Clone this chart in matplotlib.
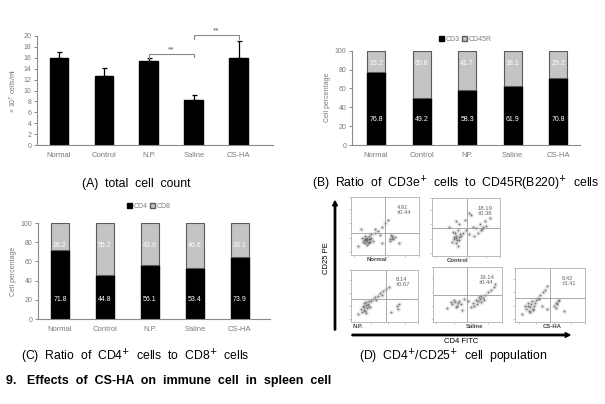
import matplotlib
matplotlib.use("Agg")
import matplotlib.pyplot as plt
from matplotlib.patches import Patch

plt.rcParams['font.family'] = ['Liberation Sans', 'DejaVu Sans']

W, H = 605, 404

# ---------------- data ----------------
groups = ["Normal", "Control", "N.P.", "Saline", "CS-HA"]
groups_b = ["Normal", "Control", "NP.", "Saline", "CS-HA"]

total_count = [16.0, 12.6, 15.5, 8.2, 16.0]
total_err = [1.0, 1.6, 0.4, 1.0, 3.1]

cd3_vals = [77.0, 49.4, 58.6, 62.1, 70.8]
cd3_labels = ["76.8", "49.2", "58.3", "61.9", "70.8"]
cd45_labels = ["23.2", "50.8", "41.7", "38.1", "29.2"]

cd4_vals = [71.6, 45.5, 55.9, 53.2, 64.8]
cd4_labels = ["71.8", "44.8", "56.1", "53.4", "73.9"]
cd8_labels = ["28.2", "55.2", "43.9", "46.6", "26.1"]

flow_names = ["Normal", "Control", "N.P.", "Saline", "CS-HA"]
flow_values = ["4.91\n±0.44", "18.19\n±0.38", "8.14\n±0.67", "19.14\n±0.44", "6.42\n±3.41"]
flow_vline = [0.50, 0.51, 0.52, 0.49, 0.50]
flow_hline = [0.38, 0.48, 0.44, 0.49, 0.44]

normal_x = [0.18,0.20,0.22,0.24,0.26,0.28,0.25,0.21,0.30,0.23,0.27,0.19,0.32,0.29,0.16,0.24,0.26,0.22,0.20,0.28,
            0.57,0.60,0.62,0.59,0.64,0.58,0.61,0.36,0.40,0.45,0.50,0.55,0.35,0.42,0.10,0.70,0.45,0.15]
normal_y = [0.22,0.28,0.24,0.30,0.22,0.27,0.20,0.32,0.30,0.18,0.33,0.26,0.25,0.36,0.30,0.26,0.28,0.27,0.21,0.23,
            0.28,0.32,0.27,0.35,0.31,0.24,0.30,0.38,0.42,0.48,0.55,0.60,0.45,0.35,0.15,0.20,0.20,0.45]
control_x = [0.30,0.33,0.35,0.37,0.39,0.41,0.36,0.34,0.38,0.32,0.40,0.36,0.43,0.31,0.38,
             0.45,0.50,0.55,0.60,0.65,0.70,0.72,0.75,0.68,0.78,0.74,0.80,0.40,0.48,0.58,0.35,0.62,0.85,0.25,0.55]
control_y = [0.25,0.30,0.35,0.28,0.33,0.38,0.22,0.40,0.45,0.32,0.27,0.31,0.34,0.42,0.18,
             0.40,0.45,0.38,0.50,0.48,0.55,0.44,0.50,0.40,0.60,0.47,0.52,0.55,0.62,0.70,0.60,0.35,0.65,0.50,0.75]
np_x = [0.15,0.18,0.20,0.22,0.24,0.26,0.21,0.19,0.23,0.17,0.25,0.28,0.22,0.20,0.27,
        0.30,0.33,0.36,0.40,0.44,0.48,0.52,0.56,0.38,0.46,0.68,0.72,0.70,0.10,0.60]
np_y = [0.25,0.30,0.28,0.33,0.26,0.30,0.22,0.36,0.38,0.20,0.35,0.28,0.18,0.24,0.40,
        0.40,0.44,0.48,0.50,0.55,0.60,0.64,0.68,0.42,0.52,0.30,0.35,0.25,0.15,0.20]
saline_x = [0.28,0.32,0.35,0.38,0.30,0.36,0.33,0.40,0.26,0.58,0.62,0.65,0.68,0.70,0.72,0.66,0.64,0.60,0.74,0.69,
            0.76,0.80,0.84,0.88,0.50,0.45,0.20,0.55,0.42,0.90]
saline_y = [0.32,0.36,0.30,0.38,0.40,0.34,0.27,0.33,0.36,0.35,0.40,0.38,0.42,0.36,0.44,0.46,0.33,0.30,0.40,0.48,
            0.50,0.55,0.58,0.64,0.38,0.42,0.25,0.28,0.22,0.70]
csha_x = [0.16,0.19,0.21,0.23,0.25,0.27,0.20,0.18,0.24,0.22,0.28,0.26,0.14,0.30,0.33,0.36,0.40,0.43,0.46,0.34,
          0.56,0.58,0.60,0.62,0.59,0.63,0.70,0.10,0.45,0.38]
csha_y = [0.25,0.30,0.28,0.33,0.24,0.30,0.20,0.36,0.38,0.18,0.35,0.22,0.30,0.40,0.45,0.50,0.55,0.60,0.66,0.42,
          0.30,0.36,0.33,0.38,0.26,0.40,0.20,0.15,0.25,0.30]
flow_x = [normal_x, control_x, np_x, saline_x, csha_x]
flow_y = [normal_y, control_y, np_y, saline_y, csha_y]

# ---------------- figure ----------------
fig = plt.figure(figsize=(W / 100, H / 100), dpi=100)

def px_axes(l, r, t, b):
    return fig.add_axes([l / W, 1 - b / H, (r - l) / W, (b - t) / H])

GRAY = '#8a8a8a'
TXT = '#7a7a7a'

def style(ax):
    for s in ['top', 'right']:
        ax.spines[s].set_visible(False)
    for s in ['left', 'bottom']:
        ax.spines[s].set_color(GRAY)
        ax.spines[s].set_linewidth(0.8)
    ax.tick_params(axis='y', colors=GRAY, labelcolor=TXT, labelsize=5, length=2.5, width=0.7, pad=1.5)
    ax.tick_params(axis='x', colors=GRAY, labelcolor=TXT, labelsize=5.5, length=0, pad=5)

# ---- Panel A ----
axA = px_axes(37, 273, 36, 145)
xs = list(range(len(groups)))
axA.bar(xs, total_count, width=0.42, color='black', edgecolor='black')
axA.errorbar(xs, total_count, yerr=[[0] * 5, total_err], fmt='none', ecolor='black',
             elinewidth=0.9, capsize=1.8, capthick=0.9)
axA.set_ylim(0, 20)
axA.set_yticks(range(0, 21, 2))
axA.set_xlim(-0.49, 4.76)
axA.set_xticks(xs)
axA.set_xticklabels(groups)
axA.set_ylabel("× 10$^7$ cells/ml", fontsize=5, color=TXT, labelpad=3.5)
style(axA)
# significance brackets
axA.plot([2, 2, 3, 3], [15.9, 16.75, 16.75, 16.2], color=GRAY, lw=0.8, clip_on=False)
axA.text(2.5, 16.8, "**", ha='center', va='bottom', fontsize=6, color='#555')
axA.plot([3, 3, 4, 4], [19.4, 20.2, 20.2, 19.4], color=GRAY, lw=0.8, clip_on=False)
axA.text(3.5, 20.25, "**", ha='center', va='bottom', fontsize=6, color='#555', clip_on=False)

# ---- Panel B ----
axB = px_axes(352, 580, 50.7, 145)
axB.bar(xs, cd3_vals, width=0.39, color='black', edgecolor='black', label='CD3')
axB.bar(xs, [100 - v for v in cd3_vals], bottom=cd3_vals, width=0.39, color='#c4c4c4',
        edgecolor='#5a5a5a', linewidth=0.8, label='CD45R')
for i in xs:
    axB.text(i, 27, cd3_labels[i], ha='center', va='center', color='white', fontsize=5)
    axB.text(i, 86.5, cd45_labels[i], ha='center', va='center', color='white', fontsize=5)
axB.set_ylim(0, 100)
axB.set_yticks(range(0, 101, 20))
axB.set_xlim(-0.53, 4.48)
axB.set_xticks(xs)
axB.set_xticklabels(groups_b)
axB.set_ylabel("Cell percentage", fontsize=5, color=TXT, labelpad=3)
style(axB)
axB.legend(handles=[Patch(facecolor='black', edgecolor='black', label='CD3'),
                    Patch(facecolor='#c4c4c4', edgecolor='#5a5a5a', label='CD45R')],
           loc='center', bbox_to_anchor=(0.496, 1.124), ncol=2, frameon=False, fontsize=5,
           handlelength=0.7, handleheight=0.7, handletextpad=0.2, columnspacing=0.4,
           labelcolor=TXT, borderpad=0)

# ---- Panel C ----
axC = px_axes(38, 270, 223, 319)
axC.bar(xs, cd4_vals, width=0.40, color='black', edgecolor='black')
axC.bar(xs, [100 - v for v in cd4_vals], bottom=cd4_vals, width=0.40, color='#c4c4c4',
        edgecolor='#5a5a5a', linewidth=0.8)
for i in xs:
    axC.text(i, 20, cd4_labels[i], ha='center', va='center', color='white', fontsize=5)
    axC.text(i, 76.7, cd8_labels[i], ha='center', va='center', color='white', fontsize=5)
axC.set_ylim(0, 100)
axC.set_yticks(range(0, 101, 20))
axC.set_xlim(-0.49, 4.67)
axC.set_xticks(xs)
axC.set_xticklabels(groups)
axC.set_ylabel("Cell percentage", fontsize=5, color=TXT, labelpad=3)
style(axC)
axC.legend(handles=[Patch(facecolor='black', edgecolor='black', label='CD4'),
                    Patch(facecolor='#c4c4c4', edgecolor='#5a5a5a', label='CD8')],
           loc='center', bbox_to_anchor=(0.478, 1.177), ncol=2, frameon=False, fontsize=5,
           handlelength=0.7, handleheight=0.7, handletextpad=0.2, columnspacing=0.4,
           labelcolor=TXT, borderpad=0)

# ---- Panel D (flow cytometry dot plots) ----
boxes = [(351, 419, 197, 255), (432, 500, 198, 256), (351, 418, 270, 322),
         (433, 502, 267, 322), (515, 585, 268, 322)]
name_pos = [(0.38, -0.08), (0.37, -0.08), (0.1, -0.09), (0.6, -0.09), (0.53, -0.09)]
for k, (l, r, t, b) in enumerate(boxes):
    ax = px_axes(l, r, t, b)
    ax.set_xlim(0, 1)
    ax.set_ylim(0, 1)
    ax.scatter(flow_x[k], flow_y[k], s=14, color='#9a9a9a', alpha=0.18, linewidths=0)
    ax.scatter(flow_x[k], flow_y[k], s=2.0, color='#555555', alpha=0.75, linewidths=0)
    ax.axvline(flow_vline[k], color='#9a9a9a', lw=0.6)
    ax.axhline(flow_hline[k], color='#9a9a9a', lw=0.6)
    for s in ax.spines.values():
        s.set_color('#b0b0b0')
        s.set_linewidth(0.6)
    ax.set_xticks([0.05, 0.3, 0.55, 0.8, 1.0])
    ax.set_yticks([0.05, 0.3, 0.55, 0.8, 1.0])
    ax.tick_params(colors='#b0b0b0', length=1.2, width=0.5, labelleft=False, labelbottom=False)
    ax.text(0.67, 0.86, flow_values[k], transform=ax.transAxes, fontsize=4.2, color='#666',
            ha='left', va='top', linespacing=1.0)
    ax.text(name_pos[k][0], name_pos[k][1], flow_names[k], transform=ax.transAxes,
            fontsize=4.3, color='#444', fontweight='bold', ha='center', va='center')

# arrows
fig.patches.append(matplotlib.patches.FancyArrow(335 / W, 1 - 330 / H, 0, (330 - 201) / H,
                   width=0.0022, head_width=0.008, head_length=0.012,
                   length_includes_head=True, color='black', transform=fig.transFigure))
fig.patches.append(matplotlib.patches.FancyArrow(352 / W, 1 - 335 / H, (570 - 352) / W, 0,
                   width=0.0035, head_width=0.012, head_length=0.008,
                   length_includes_head=True, color='black', transform=fig.transFigure))
fig.text(327 / W, 1 - 258 / H, "CD25 PE", rotation=90, fontsize=5.5, ha='center', va='center')
fig.text(461 / W, 1 - 341.5 / H, "CD4 FITC", fontsize=5.5, ha='center', va='center')

# ---- captions ----
fig.text(136 / W, 1 - 184 / H, "(A)  total  cell  count", fontsize=8.8, ha='center', va='center')
fig.text(456 / W, 1 - 184 / H, "(B)  Ratio  of  CD3e$^{+}$  cells  to  CD45R(B220)$^{+}$  cells",
         fontsize=8.8, ha='center', va='center')
fig.text(135 / W, 1 - 357 / H, "(C)  Ratio  of  CD4$^{+}$  cells  to  CD8$^{+}$  cells",
         fontsize=8.8, ha='center', va='center')
fig.text(453 / W, 1 - 357 / H, "(D)  CD4$^{+}$/CD25$^{+}$  cell  population",
         fontsize=8.8, ha='center', va='center')
fig.text(6 / W, 1 - 381 / H, "9.   Effects  of  CS-HA  on  immune  cell  in  spleen  cell",
         fontsize=9, fontweight='bold', ha='left', va='center')

fig.savefig("out.png", dpi=100)
